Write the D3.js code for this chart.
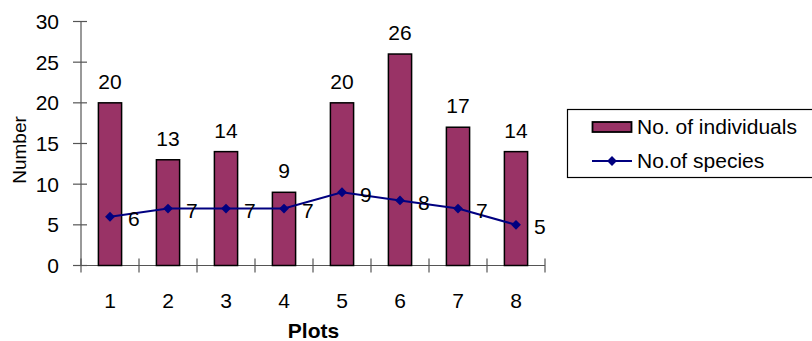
<!DOCTYPE html>
<html>
<head>
<meta charset="utf-8">
<script src="https://cdn.jsdelivr.net/npm/d3@7"></script>
<style>
  html, body { margin: 0; padding: 0; background: #fff; }
  svg { display: block; }
  text { font-family: "Liberation Sans", Arial, sans-serif; fill: #000; }
</style>
</head>
<body>
<svg id="chart" width="812" height="341"></svg>
<script>
// Survey data per plot
const plots = ["1", "2", "3", "4", "5", "6", "7", "8"];
const individuals = [20, 13, 14, 9, 20, 26, 17, 14];
const species = [6, 7, 7, 7, 9, 8, 7, 5];
const yTicks = [0, 5, 10, 15, 20, 25, 30];
const seriesNames = ["No. of individuals", "No.of species"];

const svg = d3.select("#chart");
const barColor = "#993366";
const lineColor = "#000080";
const axisColor = "#555";
const fontSize = 21;

const x = d3.scaleBand().domain(plots).range([81, 545]).paddingInner(0.6).paddingOuter(0.3);
const y = d3.scaleLinear().domain([0, 30]).range([265.5, 21.5]);
const cx = d => x(d) + x.bandwidth() / 2;

// Y axis with crossing ticks
const yAxis = svg.append("g").attr("transform", "translate(81,0)");
yAxis.append("line").attr("x1", 0).attr("x2", 0).attr("y1", y(0)).attr("y2", y(30))
  .attr("stroke", axisColor).attr("stroke-width", 1.2);
yAxis.selectAll("line.tick").data(yTicks).join("line").attr("class", "tick")
  .attr("x1", -8).attr("x2", 6).attr("y1", d => y(d)).attr("y2", d => y(d))
  .attr("stroke", axisColor).attr("stroke-width", 1.2);
yAxis.selectAll("text").data(yTicks).join("text")
  .attr("x", -22).attr("y", d => y(d)).attr("dy", "0.36em")
  .attr("text-anchor", "end").attr("font-size", fontSize).text(d => d);

// X axis with category boundary ticks
const boundaries = d3.range(plots.length + 1).map(i => x.range()[0] + i * x.step());
const xAxis = svg.append("g");
xAxis.append("line").attr("x1", x.range()[0]).attr("x2", x.range()[1])
  .attr("y1", y(0)).attr("y2", y(0)).attr("stroke", axisColor).attr("stroke-width", 1.2);
xAxis.selectAll("line.tick").data(boundaries).join("line").attr("class", "tick")
  .attr("x1", d => d).attr("x2", d => d).attr("y1", y(0) - 7).attr("y2", y(0) + 7)
  .attr("stroke", axisColor).attr("stroke-width", 1.2);
xAxis.selectAll("text").data(plots).join("text")
  .attr("x", d => cx(d)).attr("y", 308).attr("text-anchor", "middle")
  .attr("font-size", fontSize).text(d => d);

// Bars
svg.append("g").selectAll("rect").data(plots).join("rect")
  .attr("x", d => x(d)).attr("width", x.bandwidth())
  .attr("y", (d, i) => y(individuals[i])).attr("height", (d, i) => y(0) - y(individuals[i]))
  .attr("fill", barColor).attr("stroke", "#000").attr("stroke-width", 1.5);

svg.append("g").selectAll("text").data(plots).join("text")
  .attr("x", d => cx(d)).attr("y", (d, i) => y(individuals[i]) - 14)
  .attr("text-anchor", "middle").attr("font-size", fontSize)
  .text((d, i) => individuals[i]);

// Species line
const line = d3.line().x(d => cx(d)).y((d, i) => y(species[i]));
svg.append("path").datum(plots).attr("d", line)
  .attr("fill", "none").attr("stroke", lineColor).attr("stroke-width", 2);

const diamond = d3.symbol().type(d3.symbolDiamond2).size(62);
svg.append("g").selectAll("path").data(plots).join("path")
  .attr("d", diamond)
  .attr("transform", (d, i) => `translate(${cx(d)},${y(species[i])})`)
  .attr("fill", lineColor);

svg.append("g").selectAll("text").data(plots).join("text")
  .attr("x", d => cx(d) + 18).attr("y", (d, i) => y(species[i]) + 9.5)
  .attr("font-size", fontSize).text((d, i) => species[i]);

// Axis titles
svg.append("text").attr("transform", "translate(26,150) rotate(-90)")
  .attr("text-anchor", "middle").attr("font-size", 19).text("Number");
svg.append("text").attr("x", 313.5).attr("y", 338).attr("text-anchor", "middle")
  .attr("font-size", fontSize).attr("font-weight", "bold").text("Plots");

// Legend
const legend = svg.append("g");
legend.append("rect").attr("x", 567.5).attr("y", 109.5).attr("width", 260).attr("height", 68)
  .attr("fill", "#fff").attr("stroke", "#000").attr("stroke-width", 1.2);
legend.append("rect").attr("x", 592.5).attr("y", 122).attr("width", 39).attr("height", 10)
  .attr("fill", barColor).attr("stroke", "#000").attr("stroke-width", 1.8);
legend.append("line").attr("x1", 592).attr("x2", 632).attr("y1", 161).attr("y2", 161)
  .attr("stroke", lineColor).attr("stroke-width", 2);
legend.append("path").attr("d", diamond).attr("transform", "translate(612,161)").attr("fill", lineColor);
legend.selectAll("text").data(seriesNames).join("text")
  .attr("x", 637).attr("y", (d, i) => [134.3, 168.3][i])
  .attr("font-size", fontSize).text(d => d);
</script>
</body>
</html>
